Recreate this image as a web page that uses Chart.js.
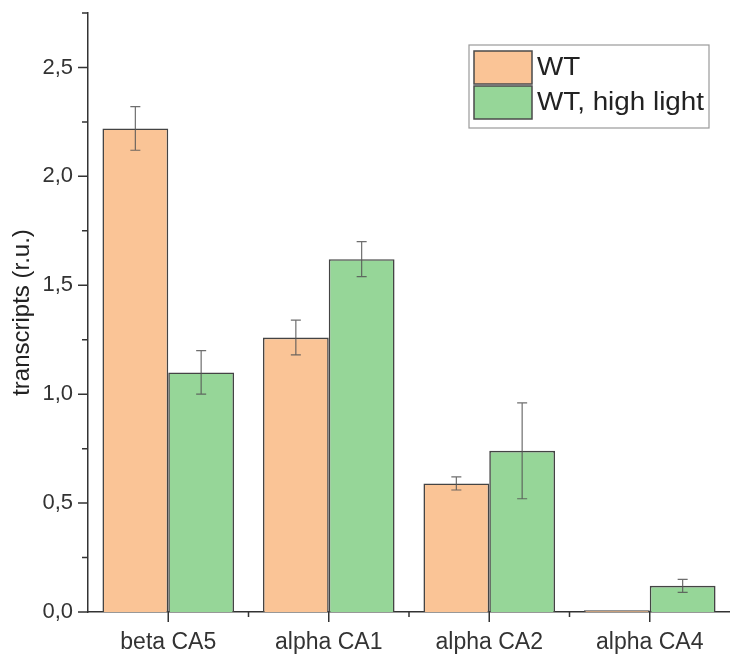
<!DOCTYPE html>
<html>
<head>
<meta charset="utf-8">
<script src="https://cdn.jsdelivr.net/npm/chart.js@4/dist/chart.umd.min.js"></script>
<style>
  html, body { margin: 0; padding: 0; background: #fff; }
  #wrap { width: 730px; height: 658px; position: relative; }
</style>
</head>
<body>
<div id="wrap"><canvas id="c" width="730" height="658"></canvas></div>
<script>
const categories = ['beta CA5', 'alpha CA1', 'alpha CA2', 'alpha CA4'];
const seriesNames = ['WT', 'WT, high light'];
const wtValues = [2.22, 1.26, 0.59, 0.008];
const wtErrors = [0.10, 0.08, 0.03, 0];
const hlValues = [1.10, 1.62, 0.74, 0.12];
const hlErrors = [0.10, 0.08, 0.22, 0.03];
const yMax = 2.75;
const yStep = 0.25;
const yTitle = 'transcripts (r.u.)';

const FONT = '"Liberation Sans", Arial, sans-serif';
const AXIS_COLOR = '#333';
const TEXT_COLOR = '#333';

const errorBarPlugin = {
  id: 'errorBars',
  afterDatasetsDraw(chart) {
    const ctx = chart.ctx;
    const y = chart.scales.y;
    chart.data.datasets.forEach((ds, di) => {
      const meta = chart.getDatasetMeta(di);
      meta.data.forEach((bar, i) => {
        const err = ds.errors[i];
        if (!err) return;
        const v = ds.data[i];
        const yHi = y.getPixelForValue(v + err);
        const yLo = y.getPixelForValue(v - err);
        const x = bar.x;
        ctx.save();
        ctx.strokeStyle = 'rgba(85,85,85,0.85)';
        ctx.lineWidth = 1.2;
        ctx.beginPath();
        ctx.moveTo(x, yHi); ctx.lineTo(x, yLo);
        ctx.moveTo(x - 5, yHi); ctx.lineTo(x + 5, yHi);
        ctx.moveTo(x - 5, yLo); ctx.lineTo(x + 5, yLo);
        ctx.stroke();
        ctx.restore();
      });
    });
  }
};

const tickMarksPlugin = {
  id: 'tickMarks',
  afterDraw(chart) {
    const ctx = chart.ctx;
    const xs = chart.scales.x, ys = chart.scales.y;
    const ca = chart.chartArea;
    ctx.save();
    ctx.strokeStyle = AXIS_COLOR;
    ctx.lineWidth = 1.5;
    ctx.beginPath();
    ys.ticks.forEach((t) => {
      const py = ys.getPixelForValue(t.value);
      const major = Math.abs(t.value / 0.5 - Math.round(t.value / 0.5)) < 1e-6;
      ctx.moveTo(ca.left, py);
      ctx.lineTo(ca.left - (major ? 10 : 6), py);
    });
    categories.forEach((c, i) => {
      const px = xs.getPixelForValue(i);
      ctx.moveTo(px, ca.bottom);
      ctx.lineTo(px, ca.bottom + 10);
      if (i > 0) {
        const mx = (xs.getPixelForValue(i - 1) + px) / 2;
        ctx.moveTo(mx, ca.bottom);
        ctx.lineTo(mx, ca.bottom + 5);
      }
    });
    ctx.stroke();
    ctx.restore();
  }
};

const legendPlugin = {
  id: 'boxLegend',
  afterDraw(chart) {
    const ctx = chart.ctx;
    const bx = 469, by = 45, bw = 240, bh = 83;
    ctx.save();
    ctx.fillStyle = '#fff';
    ctx.fillRect(bx, by, bw, bh);
    ctx.strokeStyle = '#9a9a9a';
    ctx.lineWidth = 1.2;
    ctx.strokeRect(bx, by, bw, bh);
    chart.data.datasets.forEach((ds, i) => {
      const sy = 51 + i * 35;
      ctx.fillStyle = ds.backgroundColor;
      ctx.fillRect(474, sy, 58, 33);
      ctx.strokeStyle = '#4a4a4a';
      ctx.lineWidth = 1.5;
      ctx.strokeRect(474, sy, 58, 33);
      ctx.save();
      ctx.translate(537, sy + 17);
      ctx.scale(1.07, 1);
      ctx.fillStyle = '#222';
      ctx.font = '26px ' + FONT;
      ctx.textBaseline = 'middle';
      ctx.textAlign = 'left';
      ctx.fillText(ds.label, 0, 0);
      ctx.restore();
    });
    ctx.restore();
  }
};

const whiteBg = {
  id: 'whiteBg',
  beforeDraw(chart) {
    const ctx = chart.ctx;
    ctx.save();
    ctx.fillStyle = '#fff';
    ctx.fillRect(0, 0, chart.width, chart.height);
    ctx.restore();
  }
};

new Chart(document.getElementById('c'), {
  type: 'bar',
  data: {
    labels: categories,
    datasets: [
      {
        label: seriesNames[0],
        data: wtValues,
        errors: wtErrors,
        backgroundColor: 'rgb(250,196,150)',
        borderColor: '#444',
        borderWidth: 1.6,
        categoryPercentage: 0.82,
        barPercentage: 1.0
      },
      {
        label: seriesNames[1],
        data: hlValues,
        errors: hlErrors,
        backgroundColor: 'rgb(150,214,152)',
        borderColor: '#444',
        borderWidth: 1.6,
        categoryPercentage: 0.82,
        barPercentage: 1.0
      }
    ]
  },
  options: {
    responsive: false,
    animation: false,
    devicePixelRatio: 1,
    layout: { padding: { top: 13, right: 0, left: 0, bottom: 0 } },
    plugins: {
      legend: { display: false },
      tooltip: { enabled: false }
    },
    scales: {
      x: {
        grid: { display: false, drawTicks: true, tickLength: 10 },
        border: { display: true, color: AXIS_COLOR, width: 1.5 },
        ticks: {
          color: TEXT_COLOR,
          font: { family: FONT, size: 23 },
          padding: 7,
          maxRotation: 0
        },
        afterFit(scale) { scale.height = 46; }
      },
      y: {
        min: 0,
        max: yMax,
        grid: { display: false, drawTicks: true, tickLength: 10 },
        border: { display: true, color: AXIS_COLOR, width: 1.5 },
        ticks: {
          stepSize: yStep,
          color: TEXT_COLOR,
          font: { family: FONT, size: 22 },
          padding: 5,
          callback(v) {
            const r = v / 0.5;
            if (Math.abs(r - Math.round(r)) > 1e-6) return '';
            return v.toFixed(1).replace('.', ',');
          }
        },
        title: {
          display: true,
          text: yTitle,
          color: '#222',
          font: { family: FONT, size: 24 },
          padding: { top: 8, bottom: 0 }
        },
        afterFit(scale) { scale.width = 88; scale.paddingTop = 0; scale.paddingBottom = 0; }
      }
    }
  },
  plugins: [whiteBg, errorBarPlugin, tickMarksPlugin, legendPlugin]
});
</script>
</body>
</html>
